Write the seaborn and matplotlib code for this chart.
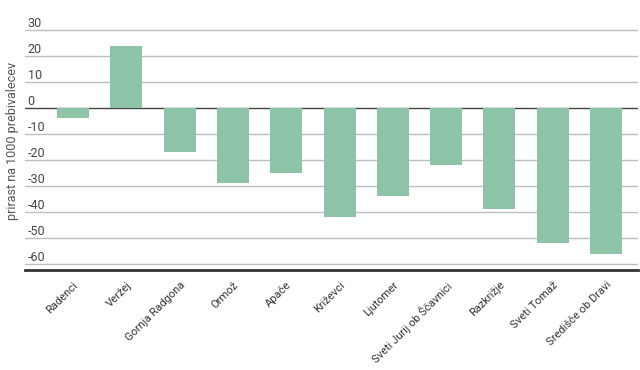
import matplotlib
matplotlib.use("Agg")
import matplotlib.pyplot as plt
import seaborn as sns
import pandas as pd

# data
obcine = ["Radenci", "Veržej", "Gornja Radgona", "Ormož", "Apače", "Križevci",
          "Ljutomer", "Sveti Jurij ob Ščavnici", "Razkrižje", "Sveti Tomaž",
          "Središče ob Dravi"]
prirast = [-4, 24, -17, -29, -25, -42, -34, -22, -39, -52, -56]
y_ticks = [30, 20, 10, 0, -10, -20, -30, -40, -50, -60]

df = pd.DataFrame({"obcina": obcine, "prirast": prirast})

sns.set_theme(style="white")
plt.rcParams["font.family"] = ["Roboto", "DejaVu Sans"]

fig = plt.figure(figsize=(6.4, 3.7), dpi=100)
ax = fig.add_axes([0.039, 0.27, 0.958, 0.656])

# gridlines behind the bars
for t in y_ticks:
    if t == 0:
        ax.axhline(t, color="#444444", lw=1.0, zorder=1)
    else:
        ax.axhline(t, color="#bdbdbd", lw=1.0, zorder=0)

sns.barplot(data=df, x="obcina", y="prirast", color="#8dc3a7", saturation=1,
            width=0.6, linewidth=0, edgecolor="none", ax=ax, zorder=2)

ax.set_ylim(-62.3, 31)
ax.set_xlim(-0.9, 10.6)
ax.set_yticks(y_ticks)
ax.set_yticklabels([str(t) for t in y_ticks])
ax.tick_params(axis="y", length=0, pad=-2, labelsize=9, colors="#444444")
for lab in ax.get_yticklabels():
    lab.set_horizontalalignment("left")
    lab.set_verticalalignment("bottom")

ax.set_xlabel("")
ax.set_ylabel("prirast na 1000 prebivalecev", fontsize=9, color="#555555")
ax.yaxis.set_label_coords(-0.009, 0.53)
ax.tick_params(axis="x", length=0, pad=7, labelsize=8, colors="#333333")
plt.setp(ax.get_xticklabels(), rotation=45, ha="right", rotation_mode="anchor")

for s in ["top", "right", "left"]:
    ax.spines[s].set_visible(False)
ax.spines["bottom"].set_color("#333333")
ax.spines["bottom"].set_linewidth(2)

fig.savefig("out.png", dpi=100)
